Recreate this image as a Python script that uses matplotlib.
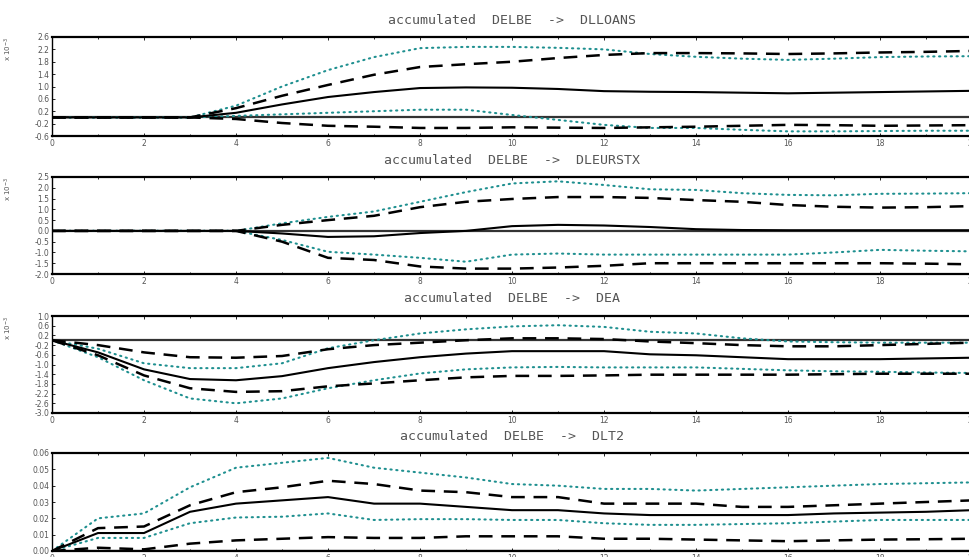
import matplotlib
matplotlib.use("Agg")
import matplotlib.pyplot as plt
import matplotlib.ticker as mtick
import numpy as np

# horizons
steps = list(range(0, 21))

titles = ["accumulated  DELBE  ->  DLLOANS",
          "accumulated  DELBE  ->  DLEURSTX",
          "accumulated  DELBE  ->  DEA",
          "accumulated  DELBE  ->  DLT2"]

# DELBE -> DLLOANS (x 10^-3)
solid1 = [0, 0, 0, 0, 0.15, 0.42, 0.66, 0.82, 0.95, 0.97, 0.96, 0.92, 0.85, 0.83, 0.82, 0.80, 0.78, 0.80, 0.82, 0.84, 0.86]
up_dash1 = [0, 0, 0, 0, 0.3, 0.7, 1.05, 1.38, 1.63, 1.72, 1.8, 1.92, 2.02, 2.08, 2.08, 2.07, 2.05, 2.07, 2.1, 2.12, 2.15]
up_dot1 = [0, 0, 0, 0, 0.38, 1.0, 1.53, 1.95, 2.24, 2.28, 2.28, 2.25, 2.2, 2.05, 1.96, 1.9, 1.86, 1.9, 1.95, 1.97, 1.98]
lo_dot1 = [0, 0, 0, 0, 0.05, 0.1, 0.15, 0.2, 0.25, 0.25, 0.08, -0.08, -0.24, -0.34, -0.34, -0.4, -0.45, -0.45, -0.44, -0.43, -0.43]
lo_dash1 = [0, 0, 0, 0, -0.05, -0.18, -0.27, -0.3, -0.34, -0.34, -0.32, -0.33, -0.34, -0.32, -0.3, -0.27, -0.24, -0.25, -0.27, -0.26, -0.25]

# DELBE -> DLEURSTX (x 10^-3)
solid2 = [0, 0, 0, 0, 0, -0.12, -0.28, -0.25, -0.1, 0.0, 0.22, 0.28, 0.25, 0.18, 0.08, 0.04, 0.03, 0.03, 0.03, 0.03, 0.03]
up_dash2 = [0, 0, 0, 0, 0, 0.28, 0.5, 0.7, 1.1, 1.35, 1.48, 1.57, 1.57, 1.53, 1.43, 1.35, 1.2, 1.12, 1.08, 1.1, 1.15]
up_dot2 = [0, 0, 0, 0, 0, 0.35, 0.65, 0.9, 1.35, 1.8, 2.2, 2.3, 2.13, 1.93, 1.9, 1.75, 1.67, 1.65, 1.72, 1.73, 1.75]
lo_dot2 = [0, 0, 0, 0, 0, -0.42, -0.97, -1.1, -1.25, -1.43, -1.1, -1.05, -1.1, -1.1, -1.1, -1.1, -1.1, -1.0, -0.88, -0.92, -0.95]
lo_dash2 = [0, 0, 0, 0, 0, -0.5, -1.25, -1.35, -1.65, -1.75, -1.75, -1.7, -1.62, -1.5, -1.5, -1.5, -1.5, -1.5, -1.5, -1.52, -1.55]

# DELBE -> DEA (x 10^-3)
solid3 = [0, -0.5, -1.2, -1.6, -1.65, -1.48, -1.15, -0.9, -0.7, -0.55, -0.45, -0.45, -0.45, -0.58, -0.62, -0.7, -0.78, -0.78, -0.78, -0.75, -0.72]
up_dash3 = [0, -0.2, -0.5, -0.7, -0.72, -0.65, -0.37, -0.2, -0.1, 0.0, 0.08, 0.08, 0.05, -0.05, -0.12, -0.2, -0.25, -0.25, -0.2, -0.15, -0.1]
up_dot3 = [0, -0.35, -0.95, -1.15, -1.15, -0.95, -0.33, 0.0, 0.28, 0.45, 0.57, 0.62, 0.55, 0.35, 0.28, 0.08, -0.05, -0.08, -0.1, -0.1, -0.1]
lo_dot3 = [0, -0.7, -1.65, -2.4, -2.6, -2.4, -1.98, -1.65, -1.37, -1.2, -1.12, -1.1, -1.12, -1.12, -1.12, -1.18, -1.24, -1.28, -1.3, -1.33, -1.35]
lo_dash3 = [0, -0.62, -1.45, -1.98, -2.13, -2.1, -1.9, -1.78, -1.65, -1.53, -1.47, -1.47, -1.45, -1.42, -1.42, -1.42, -1.42, -1.4, -1.38, -1.38, -1.38]

# DELBE -> DLT2
solid4 = [0, 0.011, 0.011, 0.024, 0.029, 0.031, 0.033, 0.029, 0.029, 0.027, 0.025, 0.025, 0.023, 0.022, 0.022, 0.022, 0.022, 0.023, 0.0235, 0.024, 0.025]
up_dash4 = [0, 0.014, 0.015, 0.028, 0.036, 0.039, 0.043, 0.041, 0.037, 0.036, 0.033, 0.033, 0.029, 0.029, 0.029, 0.027, 0.027, 0.028, 0.029, 0.030, 0.031]
up_dot4 = [0, 0.02, 0.023, 0.039, 0.051, 0.054, 0.057, 0.051, 0.048, 0.045, 0.041, 0.040, 0.038, 0.038, 0.037, 0.038, 0.039, 0.040, 0.041, 0.0415, 0.042]
lo_dot4 = [0, 0.008, 0.008, 0.017, 0.0205, 0.021, 0.023, 0.019, 0.0195, 0.0195, 0.019, 0.019, 0.017, 0.016, 0.016, 0.0165, 0.017, 0.018, 0.019, 0.019, 0.019]
lo_dash4 = [0, 0.002, 0.001, 0.0045, 0.0065, 0.0075, 0.0085, 0.008, 0.008, 0.009, 0.009, 0.009, 0.0075, 0.0075, 0.007, 0.0065, 0.006, 0.0065, 0.007, 0.0072, 0.0075]

panels = [
    (solid1, up_dash1, lo_dash1, up_dot1, lo_dot1),
    (solid2, up_dash2, lo_dash2, up_dot2, lo_dot2),
    (solid3, up_dash3, lo_dash3, up_dot3, lo_dot3),
    (solid4, up_dash4, lo_dash4, up_dot4, lo_dot4),
]
ylims = [(-0.6, 2.6), (-2.0, 2.5), (-3.0, 1.0), (0.0, 0.06)]
ysteps = [0.4, 0.5, 0.4, 0.01]
yfmt = ["%.1f", "%.1f", "%.1f", "%.2f"]
scaled = [True, True, True, False]

# axes boxes in figure pixels (top, bottom)
boxes = [(37, 136), (177, 274), (316, 413), (453, 551)]

W, H = 969, 557
fig = plt.figure(figsize=(W / 100, H / 100), dpi=100)
teal = "#1f9090"
grey = "#555555"

for i in range(4):
    top, bot = boxes[i]
    ax = fig.add_axes([52 / W, 1 - bot / H, 920 / W, (bot - top) / H])
    solid, ud, ld, uo, lo = panels[i]
    ax.axhline(0, color="#333333", lw=1.6, zorder=1)
    ax.plot(steps, uo, color=teal, lw=1.5, linestyle=(0, (0.6, 2.2)),
            dash_capstyle="round")
    ax.plot(steps, lo, color=teal, lw=1.5, linestyle=(0, (0.6, 2.2)),
            dash_capstyle="round")
    ax.plot(steps, ud, color="black", lw=1.8, linestyle=(0, (5.5, 3.5)))
    ax.plot(steps, ld, color="black", lw=1.8, linestyle=(0, (5.5, 3.5)))
    ax.plot(steps, solid, color="black", lw=1.5)

    ax.set_xlim(0, 20)
    ax.set_ylim(*ylims[i])
    lo_y, hi_y = ylims[i]
    ax.set_yticks(np.arange(lo_y, hi_y + ysteps[i] / 2, ysteps[i]))
    ax.yaxis.set_major_formatter(mtick.FormatStrFormatter(yfmt[i]))
    ax.set_xticks(range(0, 21, 2))
    ax.xaxis.set_minor_locator(mtick.MultipleLocator(1))
    ax.tick_params(axis="both", which="both", direction="in", top=True,
                   labelsize=5.5, labelcolor=grey, length=2.5, width=0.6, pad=2)
    ax.tick_params(axis="x", which="minor", length=1.5)
    for side in ["top", "bottom"]:
        ax.spines[side].set_linewidth(1.6)
    for side in ["left", "right"]:
        ax.spines[side].set_linewidth(1.0)

    fig.text(512 / W, 1 - (top - 17) / H, titles[i], ha="center",
             va="center", fontsize=9.5, color=grey,
             family="DejaVu Sans Mono")
    if scaled[i]:
        fig.text(8 / W, 1 - (top + 12) / H, r"x $10^{-3}$", rotation=90,
                 ha="center", va="center", fontsize=5, color=grey)

fig.savefig("out.png", dpi=100)
